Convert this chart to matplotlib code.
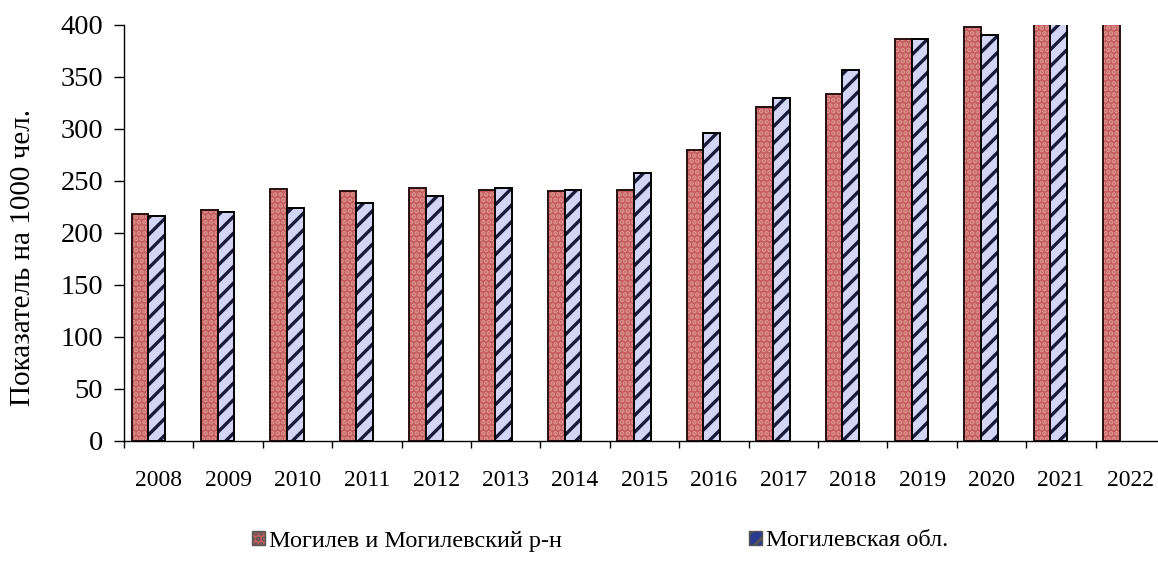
import numpy as np
import matplotlib
matplotlib.use("Agg")
import matplotlib.pyplot as plt
from matplotlib.patches import Patch

years = ["2008", "2009", "2010", "2011", "2012", "2013", "2014", "2015",
         "2016", "2017", "2018", "2019", "2020", "2021", "2022"]
mogilev_city = [218, 222, 242, 240, 243, 241, 240, 241, 280, 321, 334, 387, 398, 410, 412]
mogilev_obl = [216, 220, 224, 229, 236, 243, 241, 258, 296, 330, 357, 387, 390, 408, np.nan]
series_names = ["Могилев и Могилевский р-н", "Могилевская обл."]

plt.rcParams['font.family'] = ['Liberation Serif', 'DejaVu Serif']
plt.rcParams['hatch.linewidth'] = 2.4

fig = plt.figure(figsize=(11.58, 5.68), dpi=100)
ax = fig.add_axes([124 / 1158, 127 / 568, 15 * 69.4 / 1158, 416 / 568])

x = np.arange(len(years))
w = 0.24
red_face, red_dots = '#C45E5E', '#DE9290'
blue_face, blue_lines = '#D2D6F4', '#181A3A'

# fill + hatch first, black outline on top
ax.bar(x - 0.27, mogilev_city, w, color=red_face, hatch='...', edgecolor=red_dots, linewidth=0)
ax.bar(x - 0.27, mogilev_city, w, fill=False, edgecolor='#2a1010', linewidth=1.4)
ax.bar(x - 0.03, mogilev_obl, w, color=blue_face, hatch='//', edgecolor=blue_lines, linewidth=0)
ax.bar(x - 0.03, mogilev_obl, w, fill=False, edgecolor='black', linewidth=1.4)

ax.set_xlim(-0.5, len(years) - 0.5)
ax.set_ylim(0, 400)
ax.set_yticks(np.arange(0, 401, 50))
ax.tick_params(axis='y', labelsize=20.5, length=7, width=1, pad=8)

ax.set_xticks(np.arange(-0.5, len(years), 1))
ax.set_xticklabels([])
ax.tick_params(axis='x', which='major', length=5, width=1)
ax.set_xticks(x, labels=years, minor=True)
ax.tick_params(axis='x', which='minor', length=0, labelsize=17, pad=21)

for s in ['top', 'right']:
    ax.spines[s].set_visible(False)
for s in ['left', 'bottom']:
    ax.spines[s].set_linewidth(1.0)

fig.text(23 / 1158, 1 - 257 / 568, "Показатель на 1000 чел.", rotation=90,
         ha='center', va='center', fontsize=21)

handles = [Patch(facecolor=red_face, edgecolor='#555555', hatch='...'),
           Patch(facecolor='#2a3a90', edgecolor='#555555', hatch='//')]
fig.legend(handles, series_names, loc='center', bbox_to_anchor=(600 / 1158, 1 - 541 / 568),
           ncol=2, frameon=False, fontsize=17.5, handlelength=0.55, handleheight=0.55,
           handletextpad=0.15, columnspacing=7.7, borderpad=0)

fig.savefig("out.png", dpi=100)
